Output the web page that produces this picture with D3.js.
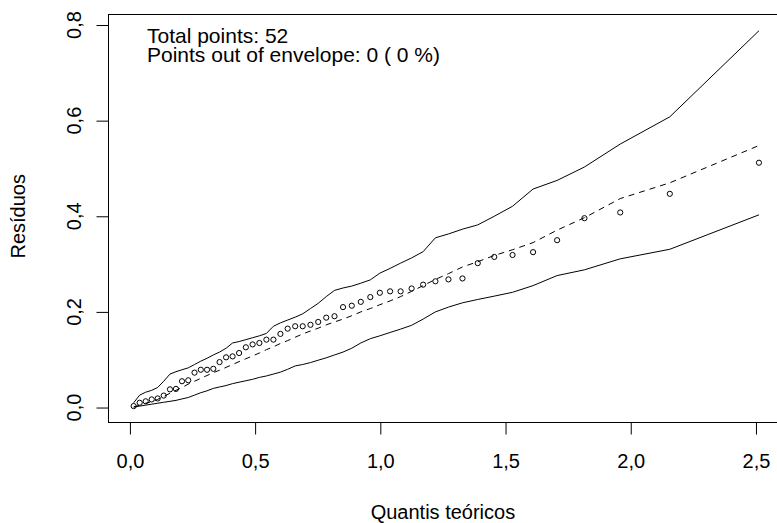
<!DOCTYPE html>
<html>
<head>
<meta charset="utf-8">
<script src="https://cdn.jsdelivr.net/npm/d3@7"></script>
<style>
  body { margin: 0; background: #fff; }
  svg { display: block; font-family: "Liberation Sans", Arial, sans-serif; }
</style>
</head>
<body>
<div id="chart"></div>
<script>
// --------- Data ---------- //
var quantis = [0.015,0.039,0.063,0.087,0.111,0.135,0.160,0.184,0.208,0.233,0.258,0.283,0.308,0.333,0.358,0.384,0.410,0.436,0.463,0.490,0.517,0.545,0.573,0.601,0.630,0.660,0.690,0.721,0.752,0.784,0.817,0.851,0.886,0.922,0.960,0.998,1.039,1.081,1.125,1.171,1.220,1.272,1.328,1.389,1.455,1.528,1.610,1.706,1.815,1.958,2.156,2.512];
var residuos = [0.003,0.010,0.013,0.017,0.019,0.025,0.038,0.039,0.055,0.057,0.073,0.079,0.079,0.081,0.095,0.105,0.107,0.114,0.126,0.132,0.135,0.142,0.142,0.154,0.165,0.170,0.170,0.173,0.179,0.188,0.191,0.210,0.213,0.221,0.231,0.240,0.243,0.243,0.249,0.257,0.264,0.268,0.270,0.302,0.315,0.319,0.325,0.350,0.396,0.408,0.447,0.512];
var envSup = [0.010,0.026,0.032,0.036,0.042,0.055,0.070,0.075,0.079,0.083,0.090,0.097,0.103,0.110,0.116,0.124,0.135,0.138,0.142,0.146,0.150,0.155,0.170,0.177,0.183,0.189,0.196,0.207,0.218,0.232,0.245,0.250,0.254,0.260,0.267,0.281,0.291,0.302,0.313,0.326,0.355,0.363,0.373,0.382,0.400,0.421,0.457,0.475,0.503,0.551,0.608,0.788];
var envMed = [0.001,0.005,0.009,0.012,0.017,0.023,0.030,0.036,0.042,0.049,0.055,0.061,0.067,0.073,0.078,0.084,0.090,0.096,0.102,0.108,0.114,0.121,0.127,0.134,0.140,0.147,0.154,0.160,0.166,0.173,0.179,0.185,0.192,0.200,0.207,0.215,0.223,0.232,0.243,0.255,0.268,0.280,0.294,0.305,0.318,0.330,0.345,0.371,0.397,0.437,0.470,0.548];
var envInf = [0.001,0.003,0.005,0.007,0.009,0.011,0.013,0.015,0.018,0.021,0.026,0.031,0.035,0.040,0.043,0.046,0.050,0.053,0.056,0.059,0.063,0.066,0.070,0.074,0.080,0.087,0.090,0.094,0.099,0.104,0.110,0.116,0.124,0.135,0.144,0.150,0.157,0.164,0.172,0.185,0.200,0.210,0.219,0.226,0.233,0.241,0.255,0.276,0.288,0.311,0.331,0.403];
var xTicks = [0, 0.5, 1, 1.5, 2, 2.5];
var yTicks = [0, 0.2, 0.4, 0.6, 0.8];
var legendLines = ["Total points: 52", "Points out of envelope: 0 ( 0 %)"];

// --------- Layout ---------- //
var W = 777, H = 523;
var box = {left: 108.5, right: 784, top: 14.5, bottom: 422.5};

var x = d3.scaleLinear().domain([-0.0855, 2.612]).range([box.left, box.right]);
var y = d3.scaleLinear().domain([-0.0313, 0.822]).range([box.bottom, box.top]);
var fmt = function(d){ return d3.format(".1f")(d).replace(".", ","); };

var svg = d3.select("#chart").append("svg")
  .attr("width", W).attr("height", H);

// plot frame
svg.append("rect")
  .attr("x", box.left).attr("y", box.top)
  .attr("width", box.right - box.left).attr("height", box.bottom - box.top)
  .attr("fill", "none").attr("stroke", "#000").attr("stroke-width", 1);

// --------- Axes ---------- //
var xAxis = svg.append("g")
  .attr("transform", "translate(0," + box.bottom + ")")
  .call(d3.axisBottom(x).tickValues(xTicks).tickFormat(fmt).tickSize(12).tickSizeOuter(0).tickPadding(19));
xAxis.select(".domain").remove();
xAxis.selectAll("line").attr("stroke", "#000");
xAxis.selectAll("text").attr("font-size", 20).attr("fill", "#000")
  .attr("font-family", "Liberation Sans, Arial, sans-serif");

var yAxis = svg.append("g")
  .attr("transform", "translate(" + box.left + ",0)")
  .call(d3.axisLeft(y).tickValues(yTicks).tickFormat("").tickSize(12).tickSizeOuter(0));
yAxis.select(".domain").remove();
yAxis.selectAll("line").attr("stroke", "#000");

svg.selectAll(".ylab").data(yTicks).enter().append("text")
  .attr("class", "ylab")
  .attr("transform", function(d){ return "translate(81," + y(d) + ") rotate(-90)"; })
  .attr("text-anchor", "middle")
  .attr("font-size", 20)
  .text(fmt);

// axis titles
svg.append("text")
  .attr("x", x(1.25)).attr("y", 519)
  .attr("text-anchor", "middle").attr("font-size", 20)
  .text("Quantis teóricos");

svg.append("text")
  .attr("transform", "translate(25," + y(0.4) + ") rotate(-90)")
  .attr("text-anchor", "middle").attr("font-size", 20)
  .text("Resíduos");

// --------- Envelope ---------- //
function linePath(vals){
  return d3.line()
    .x(function(d, i){ return x(quantis[i]); })
    .y(function(d){ return y(d); })(vals);
}

svg.append("path").attr("d", linePath(envSup))
  .attr("fill", "none").attr("stroke", "#000").attr("stroke-width", 1);
svg.append("path").attr("d", linePath(envInf))
  .attr("fill", "none").attr("stroke", "#000").attr("stroke-width", 1);
svg.append("path").attr("d", linePath(envMed))
  .attr("fill", "none").attr("stroke", "#000").attr("stroke-width", 1)
  .attr("stroke-dasharray", "6,5");

// points
svg.selectAll(".pt").data(residuos).enter().append("circle")
  .attr("class", "pt")
  .attr("cx", function(d, i){ return x(quantis[i]); })
  .attr("cy", function(d){ return y(d); })
  .attr("r", 2.6)
  .attr("fill", "none").attr("stroke", "#000").attr("stroke-width", 1);

// --------- Legend text ---------- //
svg.selectAll(".leg").data(legendLines).enter().append("text")
  .attr("class", "leg")
  .attr("x", 147)
  .attr("y", function(d, i){ return 43 + i * 19; })
  .attr("font-size", 21)
  .text(function(d){ return d; });
</script>
</body>
</html>
